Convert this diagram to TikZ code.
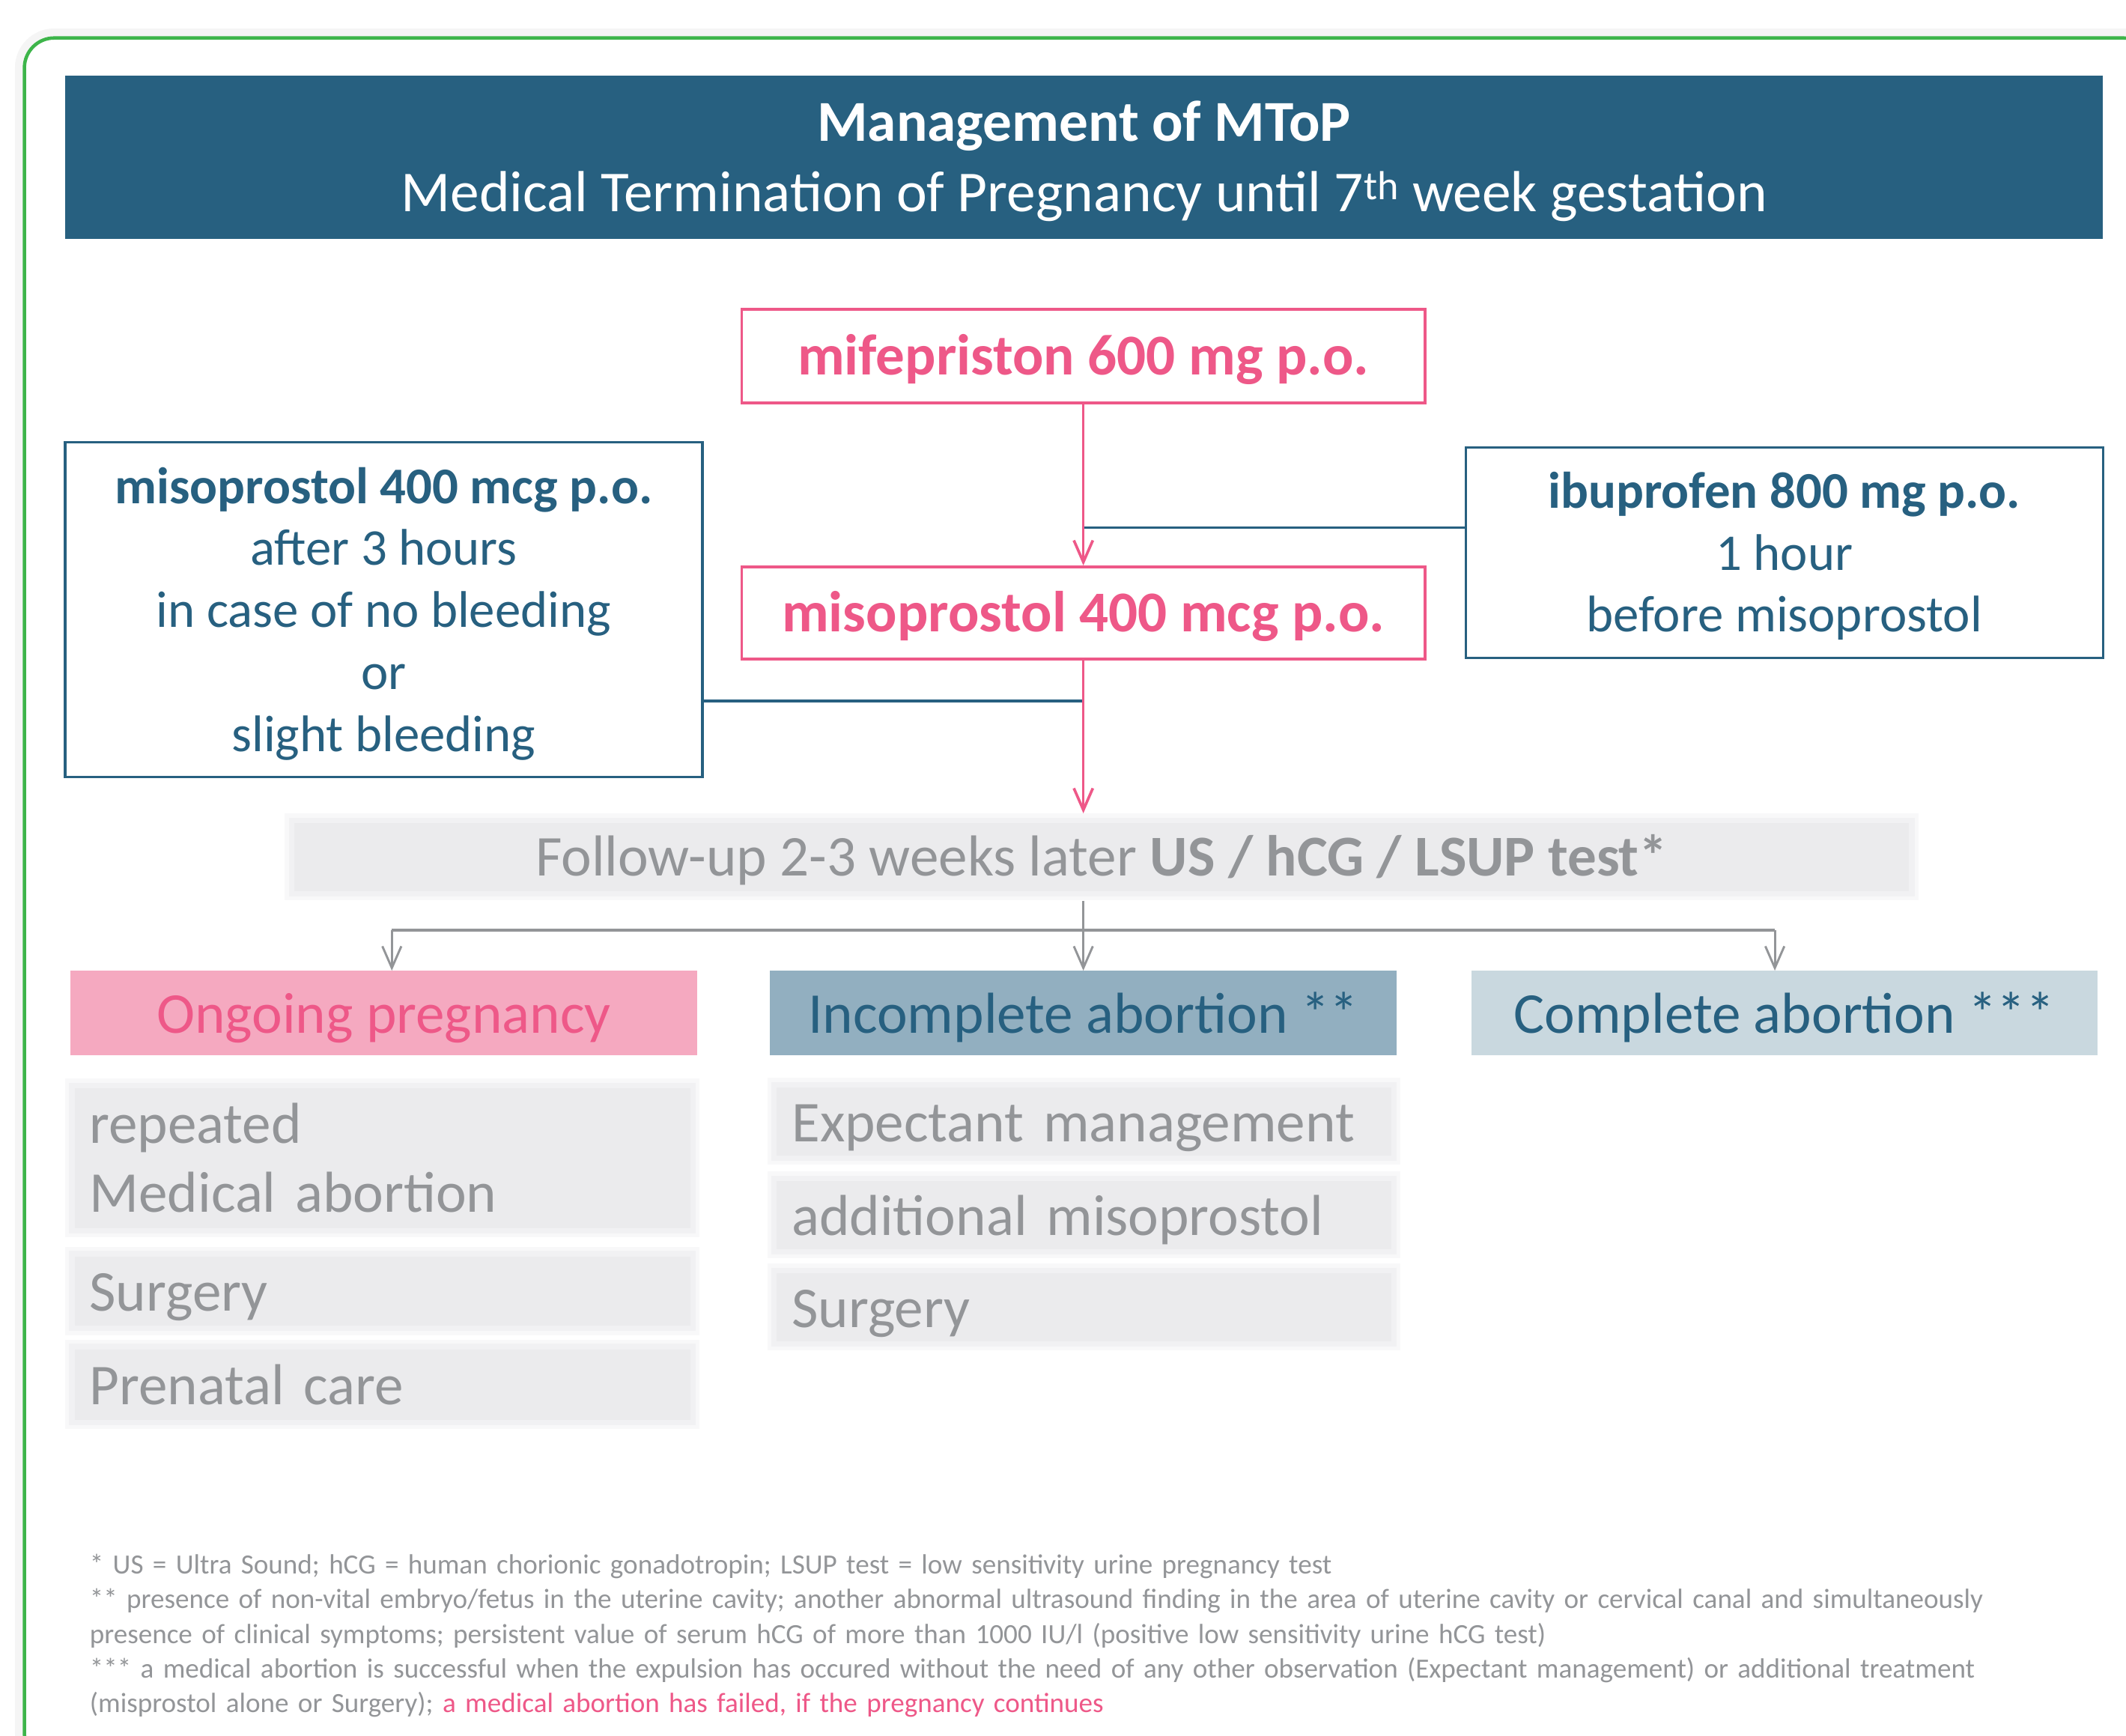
\documentclass[tikz,border=0pt]{standalone}
\usepackage{fontspec}
\setmainfont{Carlito}
\usetikzlibrary{arrows.meta}

\definecolor{mtopblue}{RGB}{39,96,128}
\definecolor{mtoppink}{RGB}{238,88,136}
\definecolor{pinkfill}{RGB}{245,169,192}
\definecolor{midblue}{RGB}{146,175,192}
\definecolor{paleblue}{RGB}{201,216,223}
\definecolor{textgray}{RGB}{147,149,152}
\definecolor{softgray}{RGB}{235,235,237}
\definecolor{framegreen}{RGB}{61,181,74}

\newcommand{\bigfont}{\fontsize{42.6}{51}\selectfont}
\newcommand{\headfont}{\fontsize{42.7}{52}\selectfont}
\newcommand{\midfont}{\fontsize{38}{45.7}\selectfont}
\newcommand{\notefont}{\fontsize{20.5}{25.5}\selectfont}

\tikzset{
  pinkbox/.style = {draw = mtoppink, line width = 2pt, text = mtoppink, font = \bigfont\bfseries,
                    minimum width = 504pt, minimum height = 69pt, inner sep = 0pt,
                    text height = 30pt, text depth = 2pt},
  sidebox/.style = {draw = mtopblue, line width = 1.8pt, text = mtopblue, font = \midfont,
                    align = center, minimum width = 470pt, inner sep = 0pt},
  cathead/.style = {font = \bigfont, minimum width = 462pt, minimum height = 62pt, inner sep = 0pt,
                    text height = 30pt, text depth = 0pt},
  softbox/.style = {fill = softgray!35, text = textgray, font = \bigfont, inner sep = 0pt,
    path picture = {
      \fill[softgray!70] ([shift={(3pt,-3pt)}]path picture bounding box.north west)
        rectangle ([shift={(-3pt,3pt)}]path picture bounding box.south east);
      \fill[softgray] ([shift={(7pt,-7pt)}]path picture bounding box.north west)
        rectangle ([shift={(-7pt,7pt)}]path picture bounding box.south east);
    }},
  optbox/.style = {softbox, text width = 432pt, align = left, inner xsep = 18pt},
  oneline/.style = {text height = 30pt, text depth = 0pt},
  pinkarrow/.style = {draw = mtoppink, line width = 2pt, -{Straight Barb[length=16pt, width=14pt]}},
  blueline/.style = {draw = mtopblue, line width = 1.8pt},
  grayline/.style = {draw = textgray, line width = 1.6pt},
  grayarrow/.style = {grayline, -{Straight Barb[length=16pt, width=14pt]}}
}

\begin{document}
\begin{tikzpicture}[x = 1pt, y = -1pt]
    \useasboundingbox (0, 0) rectangle (1568, 1280);
    \clip (0, 0) rectangle (1568, 1280);
    \fill[white] (0, 0) rectangle (1568, 1280);

    % frame
    \draw[black, opacity = .04, line width = 14pt, rounded corners = 22pt] (18, 28) rectangle (1588, 1300);
    \fill[white, rounded corners = 22pt] (18, 28) rectangle (1588, 1300);
    \draw[framegreen, line width = 2.5pt, rounded corners = 22pt] (18, 28) rectangle (1588, 1300);

    \node[fill = mtopblue, text = white, font = \headfont, align = center, minimum width = 1503pt,
          minimum height = 120pt, inner sep = 0pt, text height = 90pt, text depth = 10pt] (title) at (799.5, 116)
          {\textbf{Management of MToP}\\Medical Termination of Pregnancy until 7\textsuperscript{th} week gestation};

    \node[pinkbox] (mife) at (799, 262.5) {mifepriston 600 mg p.o.};
    \node[pinkbox, minimum height = 68pt] (miso) at (799, 452) {misoprostol 400 mcg p.o.};
    \node[sidebox, minimum height = 247pt, text height = 218pt, text depth = 9pt] (misoextra) at (283, 449.5)
          {\textbf{misoprostol 400 mcg p.o.}\\after 3 hours\\in case of no bleeding\\or\\slight bleeding};
    \node[sidebox, minimum height = 155pt, text height = 126pt, text depth = 9pt] (ibu) at (1316, 407.5)
          {\textbf{ibuprofen 800 mg p.o.}\\1 hour\\before misoprostol};

    \node[softbox, minimum width = 1205pt, minimum height = 64pt, text height = 30pt, text depth = 2pt]
          (follow) at (812.5, 632) {Follow-up 2-3 weeks later \textbf{US / hCG / LSUP test*}};

    \node[cathead, fill = pinkfill, text = mtoppink] (ongoing) at (283, 747) {Ongoing pregnancy};
    \node[cathead, fill = midblue, text = mtopblue] (incomplete) at (799, 747) {Incomplete abortion **};
    \node[cathead, fill = paleblue, text = mtopblue] (complete) at (1316, 747) {Complete abortion ***};

    \node[optbox, minimum height = 117pt] (repeat) at (282, 854) {repeated\\Medical abortion};
    \node[optbox, oneline, text depth = -3pt, minimum height = 65pt] (surgA) at (282, 952) {Surgery};
    \node[optbox, oneline, minimum height = 66pt] (prenatal) at (282, 1021) {Prenatal care};
    \node[optbox, oneline, text width = 431pt, minimum height = 64pt] (expect) at (799.5, 827) {Expectant management};
    \node[optbox, oneline, text width = 431pt, minimum height = 64pt] (addmiso) at (799.5, 896) {additional misoprostol};
    \node[optbox, oneline, text width = 431pt, minimum height = 64pt] (surgB) at (799.5, 964) {Surgery};

    \node[anchor = north west, text width = 1480pt, align = left, inner sep = 0pt, font = \notefont,
          text = textgray] (notes) at (66, 1146)
          {* US = Ultra Sound; hCG = human chorionic gonadotropin; LSUP test = low sensitivity urine pregnancy test\\
           {}** presence of non-vital embryo/fetus in the uterine cavity; another abnormal ultrasound finding in the area of uterine cavity or cervical canal and simultaneously\\
           presence of clinical symptoms; persistent value of serum hCG of more than 1000 IU/l (positive low sensitivity urine hCG test)\\
           {}*** a medical abortion is successful when the expulsion has occured without the need of any other observation (Expectant management) or additional treatment\\
           (misprostol alone or Surgery); \textcolor{mtoppink}{a medical abortion has failed, if the pregnancy continues}};

    \coordinate (ibujoin) at (799, 389);
    \coordinate (misojoin) at (799, 517);
    \draw[blueline] (ibu.west |- ibujoin) -- (ibujoin);
    \draw[blueline] (misoextra.east |- misojoin) -- (misojoin);
    \draw[pinkarrow] (mife) -- (miso);
    \draw[pinkarrow] (miso) -- (miso.south |- follow.north);

    \coordinate (split) at (799, 686);
    \coordinate (splitL) at (289, 686);
    \coordinate (splitR) at (1309, 686);
    \draw[grayline] (split |- follow.south) -- (split);
    \draw[grayline, line width = 2.6pt] (splitL) -- (splitR);
    \draw[grayarrow] (splitL) -- (splitL |- ongoing.north);
    \draw[grayarrow] (split) -- (incomplete);
    \draw[grayarrow] (splitR) -- (splitR |- complete.north);
    %\draw[grayline] (follow.south) -- (incomplete.north);
\end{tikzpicture}
\end{document}
